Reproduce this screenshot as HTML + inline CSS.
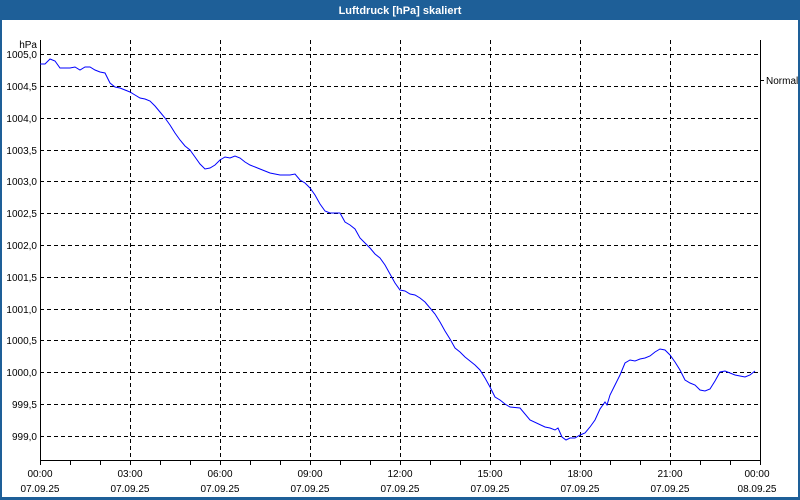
<!DOCTYPE html>
<html><head><meta charset="utf-8"><style>
html,body{margin:0;padding:0;background:#fff}
svg{display:block;font-family:"Liberation Sans",sans-serif}
</style></head><body>
<svg width="800" height="500" xmlns="http://www.w3.org/2000/svg">
<rect x="0" y="0" width="800" height="500" fill="#1e5f98"/>
<rect x="2" y="20" width="796" height="477" fill="#fff"/>
<text x="400" y="14" fill="#fff" font-size="11" font-weight="bold" text-anchor="middle">Luftdruck [hPa] skaliert</text>
<g stroke="#000" stroke-dasharray="4,3" stroke-width="1">
<line x1="40" x2="760" y1="54.5" y2="54.5"/><line x1="40" x2="760" y1="86.5" y2="86.5"/>
<line x1="40" x2="760" y1="118.5" y2="118.5"/><line x1="40" x2="760" y1="150.5" y2="150.5"/>
<line x1="40" x2="760" y1="181.5" y2="181.5"/><line x1="40" x2="760" y1="213.5" y2="213.5"/>
<line x1="40" x2="760" y1="245.5" y2="245.5"/><line x1="40" x2="760" y1="277.5" y2="277.5"/>
<line x1="40" x2="760" y1="309.5" y2="309.5"/><line x1="40" x2="760" y1="340.5" y2="340.5"/>
<line x1="40" x2="760" y1="372.5" y2="372.5"/><line x1="40" x2="760" y1="404.5" y2="404.5"/>
<line x1="40" x2="760" y1="436.5" y2="436.5"/>
<line x1="130.5" x2="130.5" y1="40" y2="460"/><line x1="220.5" x2="220.5" y1="40" y2="460"/>
<line x1="310.5" x2="310.5" y1="40" y2="460"/><line x1="400.5" x2="400.5" y1="40" y2="460"/>
<line x1="490.5" x2="490.5" y1="40" y2="460"/><line x1="580.5" x2="580.5" y1="40" y2="460"/>
<line x1="670.5" x2="670.5" y1="40" y2="460"/>
</g>
<path d="M40.5 40V460.5H760.5V40" fill="none" stroke="#000"/>
<g stroke="#000">
<line x1="40.5" x2="40.5" y1="460" y2="465"/><line x1="70.5" x2="70.5" y1="460" y2="465"/><line x1="100.5" x2="100.5" y1="460" y2="465"/>
<line x1="130.5" x2="130.5" y1="460" y2="465"/><line x1="160.5" x2="160.5" y1="460" y2="465"/><line x1="190.5" x2="190.5" y1="460" y2="465"/>
<line x1="220.5" x2="220.5" y1="460" y2="465"/><line x1="250.5" x2="250.5" y1="460" y2="465"/><line x1="280.5" x2="280.5" y1="460" y2="465"/>
<line x1="310.5" x2="310.5" y1="460" y2="465"/><line x1="340.5" x2="340.5" y1="460" y2="465"/><line x1="370.5" x2="370.5" y1="460" y2="465"/>
<line x1="400.5" x2="400.5" y1="460" y2="465"/><line x1="430.5" x2="430.5" y1="460" y2="465"/><line x1="460.5" x2="460.5" y1="460" y2="465"/>
<line x1="490.5" x2="490.5" y1="460" y2="465"/><line x1="520.5" x2="520.5" y1="460" y2="465"/><line x1="550.5" x2="550.5" y1="460" y2="465"/>
<line x1="580.5" x2="580.5" y1="460" y2="465"/><line x1="610.5" x2="610.5" y1="460" y2="465"/><line x1="640.5" x2="640.5" y1="460" y2="465"/>
<line x1="670.5" x2="670.5" y1="460" y2="465"/><line x1="700.5" x2="700.5" y1="460" y2="465"/><line x1="730.5" x2="730.5" y1="460" y2="465"/>
<line x1="760.5" x2="760.5" y1="460" y2="465"/>
<line x1="760" x2="764" y1="80.5" y2="80.5"/>
</g>
<g font-size="10" fill="#000" text-anchor="end">
<text x="37" y="48">hPa</text>
<text x="37" y="58">1005,0</text><text x="37" y="90">1004,5</text><text x="37" y="122">1004,0</text>
<text x="37" y="154">1003,5</text><text x="37" y="185">1003,0</text><text x="37" y="217">1002,5</text>
<text x="37" y="249">1002,0</text><text x="37" y="281">1001,5</text><text x="37" y="313">1001,0</text>
<text x="37" y="344">1000,5</text><text x="37" y="376">1000,0</text><text x="37" y="408">999,5</text>
<text x="37" y="440">999,0</text>
</g>
<text x="766" y="84" font-size="10">Normal</text>
<g font-size="10" text-anchor="middle">
<text x="40" y="477">00:00</text><text x="40" y="492">07.09.25</text>
<text x="130" y="477">03:00</text><text x="130" y="492">07.09.25</text>
<text x="220" y="477">06:00</text><text x="220" y="492">07.09.25</text>
<text x="310" y="477">09:00</text><text x="310" y="492">07.09.25</text>
<text x="400" y="477">12:00</text><text x="400" y="492">07.09.25</text>
<text x="490" y="477">15:00</text><text x="490" y="492">07.09.25</text>
<text x="580" y="477">18:00</text><text x="580" y="492">07.09.25</text>
<text x="670" y="477">21:00</text><text x="670" y="492">07.09.25</text>
<text x="757" y="477">00:00</text><text x="757" y="492">08.09.25</text>
</g>
<polyline fill="none" stroke="#0000ff" stroke-width="1" points="40,64 45,64 50,59 55,61 60,68 70,68 75,67 80,70 85,67 90,67 95,70 100,72 105,73 110,83 115,87 120,88 125,90 130,92 135,95 140,98 145,99 150,101 155,106 160,112 165,118 170,125 175,133 180,140 185,146 190,150 195,157 200,164 205,169 210,168 215,165 220,160 225,157 230,158 235,156 240,158 245,162 250,165 260,169 270,173 280,175 290,175 295,174 300,180 305,183 310,188 315,195 320,204 325,211 330,213 340,213 345,222 350,225 355,229 360,238 365,243 370,248 375,254 380,258 385,265 390,274 395,283 400,290 405,291 410,294 415,295 420,298 425,302 430,308 435,314 440,322 445,331 450,339 455,348 460,352 465,357 470,361 475,365 480,370 485,378 490,387 495,397 500,400 505,404 510,407 520,408 530,420 545,427 550,428 555,430 558,428 562,437 566,440 570,438 575,438 580,435 585,433 590,427 595,420 600,409 605,402 607,405 610,395 615,385 620,375 625,363 630,360 635,361 640,359 645,358 650,356 655,352 660,349 665,350 670,355 675,362 680,370 685,380 690,383 695,385 700,390 705,391 710,389 715,381 720,372 725,371 730,373 735,375 740,376 745,377 750,375 755,371"/>
</svg>
</body></html>
